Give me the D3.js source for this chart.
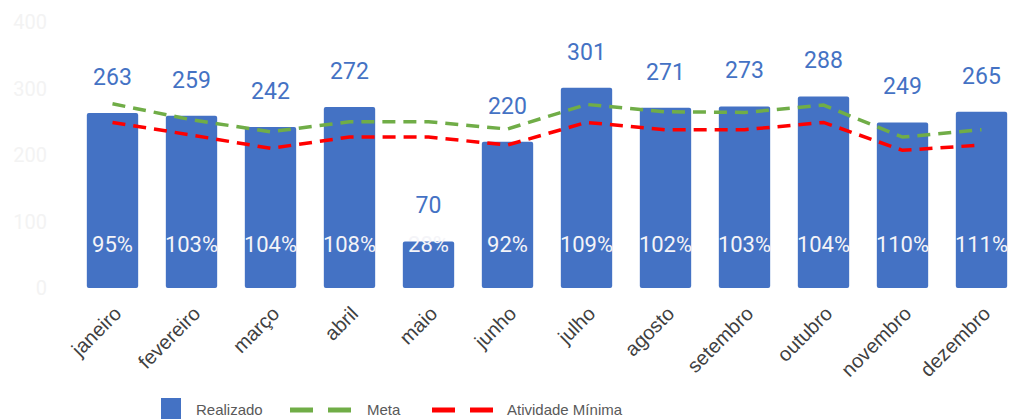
<!DOCTYPE html>
<html>
<head>
<meta charset="utf-8">
<script src="https://cdn.jsdelivr.net/npm/d3@7"></script>
<style>
  body { margin: 0; background: #fff; }
  svg { display: block; }
</style>
</head>
<body>
<div id="chart"></div>
<script>
const months = ["janeiro", "fevereiro", "março", "abril", "maio", "junho",
  "julho", "agosto", "setembro", "outubro", "novembro", "dezembro"];
const realizado = [263, 259, 242, 272, 70, 220, 301, 271, 273, 288, 249, 265];
const meta = [277, 253, 235, 250, 250, 239, 276, 265, 264, 275, 227, 238];
const minima = [249, 230, 210, 227, 227, 215, 249, 238, 238, 249, 207, 215];
const pctLabels = ["95%", "103%", "104%", "108%", "28%", "92%", "109%", "102%", "103%", "104%", "110%", "111%"];
const yTicks = [0, 100, 200, 300, 400];

const width = 1009, height = 419;

const svg = d3.select("#chart")
  .append("svg")
  .attr("width", width)
  .attr("height", height);

const x = d3.scaleBand()
  .domain(months)
  .range([73, 1021])
  .paddingInner(0.35)
  .paddingOuter(0.175);

const y = d3.scaleLinear()
  .domain([0, 400])
  .range([288, 22]);

// y axis labels (very faint)
svg.append("g")
  .selectAll("text")
  .data(yTicks)
  .join("text")
  .attr("x", 47)
  .attr("y", d => y(d))
  .attr("dy", "0.35em")
  .attr("text-anchor", "end")
  .attr("font-family", "Roboto, sans-serif")
  .attr("font-size", 20)
  .attr("fill", "#f3f3f3")
  .text(d => d);

// bars
svg.append("g")
  .selectAll("rect")
  .data(realizado)
  .join("rect")
  .attr("x", (d, i) => x(months[i]))
  .attr("y", d => y(d))
  .attr("width", x.bandwidth())
  .attr("height", d => y(0) - y(d))
  .attr("rx", 2)
  .attr("fill", "#4472C4");

// lines
const line = d3.line()
  .x((d, i) => x(months[i]) + x.bandwidth() / 2)
  .y(d => y(d));

svg.append("path")
  .datum(meta)
  .attr("d", line)
  .attr("fill", "none")
  .attr("stroke", "#70AD47")
  .attr("stroke-width", 3.5)
  .attr("stroke-dasharray", "13,8");

svg.append("path")
  .datum(minima)
  .attr("d", line)
  .attr("fill", "none")
  .attr("stroke", "#FF0000")
  .attr("stroke-width", 3.5)
  .attr("stroke-dasharray", "13,8");

// value labels
svg.append("g")
  .selectAll("text")
  .data(realizado)
  .join("text")
  .attr("x", (d, i) => x(months[i]) + x.bandwidth() / 2)
  .attr("y", d => y(d) - 28)
  .attr("text-anchor", "middle")
  .attr("font-family", "Roboto, sans-serif")
  .attr("font-size", 23)
  .attr("fill", "#4472C4")
  .text(d => d);

// percentages inside bars
svg.append("g")
  .selectAll("text")
  .data(pctLabels)
  .join("text")
  .attr("x", (d, i) => x(months[i]) + x.bandwidth() / 2)
  .attr("y", 252)
  .attr("text-anchor", "middle")
  .attr("font-family", "Roboto, sans-serif")
  .attr("font-size", 22)
  .attr("fill", "#f4f4f8")
  .text(d => d);

// x labels
svg.append("g")
  .selectAll("text")
  .data(months)
  .join("text")
  .attr("transform", d => `translate(${x(d) + x.bandwidth() / 2 + 10},${315}) rotate(-45)`)
  .attr("text-anchor", "end")
  .attr("font-family", "Liberation Sans, Arial, sans-serif")
  .attr("font-size", 20)
  .attr("fill", "#404040")
  .text(d => d);

// legend
const legend = svg.append("g")
  .attr("font-family", "Liberation Sans, Arial, sans-serif")
  .attr("font-size", 15)
  .attr("fill", "#595959");

legend.append("rect")
  .attr("x", 161).attr("y", 398)
  .attr("width", 20).attr("height", 21)
  .attr("fill", "#4472C4");
legend.append("text").attr("x", 196).attr("y", 415).text("Realizado");

legend.append("line")
  .attr("x1", 290).attr("x2", 352).attr("y1", 410).attr("y2", 410)
  .attr("stroke", "#70AD47").attr("stroke-width", 5)
  .attr("stroke-dasharray", "23,15");
legend.append("text").attr("x", 367).attr("y", 415).text("Meta");

legend.append("line")
  .attr("x1", 432).attr("x2", 494).attr("y1", 410).attr("y2", 410)
  .attr("stroke", "#FF0000").attr("stroke-width", 5)
  .attr("stroke-dasharray", "23,15");
legend.append("text").attr("x", 507).attr("y", 415).text("Atividade Mínima");
</script>
</body>
</html>
